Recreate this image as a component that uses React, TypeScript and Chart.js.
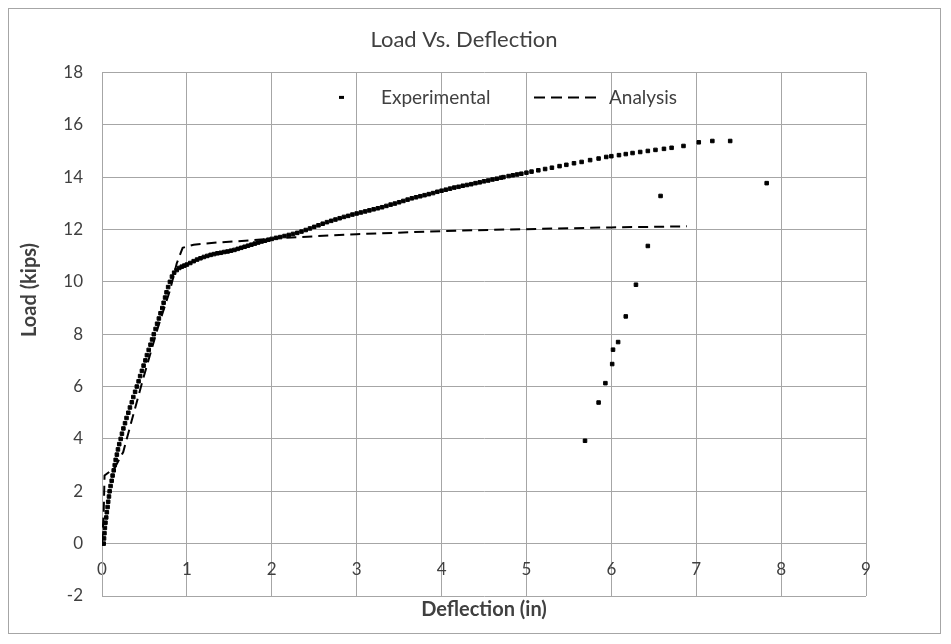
import { useEffect, useRef } from "react";
import { Chart, registerables } from "chart.js";

Chart.register(...registerables);

const CHART_TITLE = "Load Vs. Deflection";
const X_TITLE = "Deflection (in)";
const Y_TITLE = "Load (kips)";
const SERIES_NAMES = ["Experimental", "Analysis"];

const X_MIN = 0;
const X_MAX = 9;
const X_STEP = 1;
const Y_MIN = -2;
const Y_MAX = 18;
const Y_STEP = 2;

const experimentalDeflection = [
  0.02, 0.024, 0.029, 0.034, 0.041, 0.05, 0.057, 0.066, 0.073, 0.082,
  0.09, 0.101, 0.114, 0.125, 0.138, 0.15, 0.161, 0.175, 0.188, 0.203,
  0.22, 0.235, 0.252, 0.271, 0.289, 0.31, 0.329, 0.351, 0.369, 0.39,
  0.41, 0.431, 0.449, 0.47, 0.49, 0.511, 0.529, 0.55, 0.571, 0.59,
  0.61, 0.631, 0.649, 0.67, 0.689, 0.71, 0.726, 0.743, 0.76, 0.779,
  0.8, 0.824, 0.85,
  0.88, 0.91, 0.94, 0.97, 1.0, 1.04, 1.08, 1.12, 1.16, 1.2,
  1.24, 1.28, 1.32, 1.36, 1.4, 1.44, 1.48, 1.52, 1.56, 1.6,
  1.64, 1.68, 1.72, 1.76, 1.8, 1.84, 1.88, 1.92, 1.96, 2.0,
  2.05, 2.1, 2.15, 2.2, 2.25, 2.3, 2.35, 2.4, 2.45, 2.5,
  2.55, 2.6, 2.65, 2.7, 2.75, 2.8, 2.85, 2.9, 2.95, 3.0,
  3.05, 3.1, 3.15, 3.2, 3.25, 3.3, 3.35, 3.4, 3.45, 3.5,
  3.55, 3.6, 3.65, 3.7, 3.75, 3.8, 3.85, 3.9, 3.95, 4.0,
  4.05, 4.1, 4.15, 4.2, 4.25, 4.3, 4.35, 4.4, 4.45, 4.5,
  4.55, 4.6, 4.65, 4.7,
  4.73, 4.79, 4.84, 4.89, 4.94, 5.0, 5.06, 5.14, 5.22, 5.3,
  5.39, 5.47, 5.56, 5.65, 5.75, 5.85, 5.94, 6.0, 6.09, 6.17,
  6.25, 6.34, 6.43, 6.52, 6.62, 6.71, 6.85, 7.03, 7.19, 7.4,
  7.83, 6.58, 6.43, 6.29, 6.17, 6.08, 6.02, 6.01, 5.93, 5.85, 5.69,
];

const experimentalLoad = [
  0.0, 0.2, 0.4, 0.6, 0.8, 1.0, 1.2, 1.4, 1.6, 1.8,
  2.0, 2.2, 2.4, 2.6, 2.8, 3.0, 3.2, 3.4, 3.6, 3.8,
  4.0, 4.2, 4.4, 4.6, 4.8, 5.0, 5.2, 5.4, 5.6, 5.8,
  6.0, 6.2, 6.4, 6.6, 6.8, 7.0, 7.2, 7.4, 7.6, 7.8,
  8.0, 8.2, 8.4, 8.6, 8.8, 9.0, 9.2, 9.4, 9.6, 9.8,
  10.0, 10.2, 10.35,
  10.45, 10.53, 10.58, 10.62, 10.66, 10.72, 10.79, 10.85, 10.9, 10.95,
  10.99, 11.03, 11.06, 11.09, 11.11, 11.14, 11.16, 11.19, 11.22, 11.26,
  11.3, 11.34, 11.38, 11.42, 11.46, 11.5, 11.54, 11.57, 11.61, 11.64,
  11.68, 11.71, 11.75, 11.79, 11.83, 11.87, 11.92, 11.98, 12.04, 12.1,
  12.16, 12.22, 12.28, 12.33, 12.38, 12.43, 12.48, 12.52, 12.57, 12.61,
  12.65, 12.69, 12.73, 12.77, 12.81, 12.85, 12.9, 12.95, 12.99, 13.04,
  13.09, 13.14, 13.19, 13.23, 13.27, 13.31, 13.35, 13.39, 13.44, 13.48,
  13.52, 13.56, 13.6, 13.63, 13.67, 13.7, 13.73, 13.77, 13.8, 13.84,
  13.87, 13.91, 13.94, 13.98,
  14.0, 14.04, 14.07, 14.1, 14.13, 14.17, 14.21, 14.26, 14.31, 14.36,
  14.42, 14.47, 14.53, 14.58, 14.65, 14.71, 14.77, 14.8, 14.84, 14.88,
  14.92, 14.96, 15.0, 15.04, 15.08, 15.12, 15.19, 15.33, 15.38, 15.38,
  13.77, 13.28, 11.37, 9.89, 8.68, 7.7, 7.41, 6.86, 6.13, 5.39, 3.93,
];

const analysisDeflection = [
  0.0, 0.02, 0.03, 0.15, 0.25, 0.35, 0.49, 0.66, 0.8, 0.88,
  0.95, 1.08, 1.35, 1.74, 2.14, 3.0, 4.02, 4.81, 6.0, 6.89,
];
const analysisLoad = [
  0.0, 1.2, 2.6, 2.9, 3.5, 4.7, 6.36, 8.27, 9.67, 10.7,
  11.3, 11.42, 11.5, 11.58, 11.68, 11.82, 11.94, 12.0, 12.08, 12.12,
];

const GRID = "#a6a6a6";
const TEXT = "#404040";
const FONT = "Lato, 'Open Sans', sans-serif";

const overlayPlugin = {
  id: "overlayLegendAndYTitle",
  afterDraw(chart: any) {
    const { ctx, chartArea } = chart;
    const names = chart.data.datasets.map((d: any) => d.label);
    const ly = chartArea.top + 25;
    ctx.save();
    // Experimental marker
    ctx.fillStyle = "#000";
    ctx.fillRect(chartArea.left + 237, ly - 1.5, 5, 3);
    // Analysis marker
    ctx.strokeStyle = "#000";
    ctx.lineWidth = 2;
    ctx.setLineDash([11, 6]);
    ctx.beginPath();
    ctx.moveTo(chartArea.left + 432, ly);
    ctx.lineTo(chartArea.left + 494, ly);
    ctx.stroke();
    ctx.setLineDash([]);
    ctx.font = `19px ${FONT}`;
    ctx.fillStyle = TEXT;
    ctx.textBaseline = "middle";
    ctx.textAlign = "left";
    ctx.fillText(names[0], chartArea.left + 279, ly);
    ctx.fillText(names[1], chartArea.left + 507, ly);
    // Y axis title
    ctx.translate(21, 281);
    ctx.rotate(-Math.PI / 2);
    ctx.font = `bold 20px ${FONT}`;
    ctx.textAlign = "center";
    ctx.fillText(Y_TITLE, 0, 0);
    ctx.restore();
  },
};

export default function App() {
  const ref = useRef<HTMLCanvasElement | null>(null);

  useEffect(() => {
    if (!ref.current) return;
    const expPoints = experimentalDeflection.map((x, i) => ({ x, y: experimentalLoad[i] }));
    const anaPoints = analysisDeflection.map((x, i) => ({ x, y: analysisLoad[i] }));
    const chart = new Chart(ref.current, {
      type: "scatter",
      data: {
        datasets: [
          {
            label: SERIES_NAMES[0],
            data: expPoints,
            showLine: false,
            pointStyle: "rect",
            pointRadius: 2.5,
            pointBorderWidth: 1,
            backgroundColor: "#000",
            borderColor: "#000",
          },
          {
            label: SERIES_NAMES[1],
            data: anaPoints,
            showLine: true,
            borderColor: "#000",
            borderWidth: 2,
            borderDash: [10, 6],
            pointRadius: 0,
            tension: 0,
          },
        ],
      },
      options: {
        responsive: false,
        animation: false,
        devicePixelRatio: 1,
        layout: { padding: { left: 53, right: 74, top: 0, bottom: 0 } },
        plugins: {
          legend: { display: false },
          tooltip: { enabled: false },
          title: {
            display: true,
            text: CHART_TITLE,
            color: TEXT,
            font: { family: FONT, size: 22, weight: "normal" },
            padding: { top: 18, bottom: 19 },
          },
        },
        scales: {
          x: {
            type: "linear",
            min: X_MIN,
            max: X_MAX,
            position: { y: 0 } as any,
            ticks: {
              stepSize: X_STEP,
              padding: 16,
              color: TEXT,
              font: { family: FONT, size: 17 },
              maxRotation: 0,
            },
            grid: { color: GRID, drawTicks: false },
            border: { color: GRID },
          },
          x2: {
            type: "linear",
            position: "bottom",
            min: X_MIN,
            max: X_MAX,
            ticks: { display: false },
            grid: { display: false, drawTicks: false },
            border: { display: false },
            title: {
              display: true,
              text: X_TITLE,
              color: TEXT,
              font: { family: FONT, size: 20, weight: "bold" },
              padding: { top: 0, bottom: 11 },
            },
            afterFit(scale: any) {
              scale.height = 37;
            },
          },
          y: {
            type: "linear",
            min: Y_MIN,
            max: Y_MAX,
            ticks: {
              stepSize: Y_STEP,
              padding: 19,
              color: TEXT,
              font: { family: FONT, size: 17 },
            },
            grid: { color: GRID, drawTicks: false },
            border: { color: GRID },
            afterFit(scale: any) {
              scale.width = 40;
            },
          },
        },
      },
      plugins: [overlayPlugin],
    });
    return () => chart.destroy();
  }, []);

  return (
    <div
      style={{
        width: 933,
        height: 626,
        border: "1px solid #a6a6a6",
        boxSizing: "border-box",
        background: "#fff",
      }}
    >
      <canvas ref={ref} width={931} height={624} style={{ display: "block", width: 931, height: 624 }} />
    </div>
  );
}
